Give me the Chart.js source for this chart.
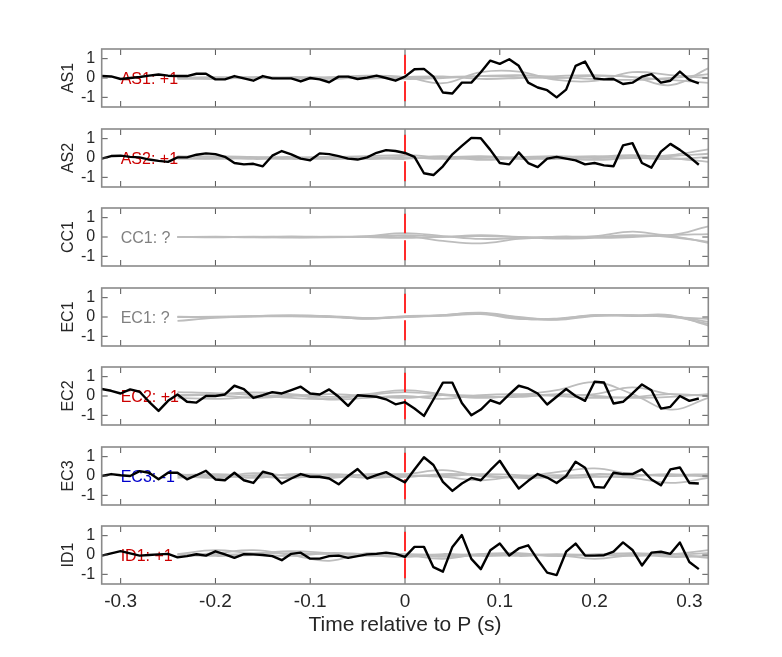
<!DOCTYPE html>
<html>
<head>
<meta charset="utf-8">
<script src="https://cdn.jsdelivr.net/npm/chart.js@4.4.1/dist/chart.umd.min.js"></script>
<style>
  body { margin: 0; background: #fff; }
  #wrap { position: relative; width: 782px; height: 657px; }
  .panel { position: absolute; left: 0; width: 782px; }
</style>
</head>
<body>
<div id="wrap"></div>
<script>
// sample grid of the traces (s)
const t0 = -0.32, dt = 0.01, nSamples = 64;
// sample times of the grey reference traces
const grayTimes = [-0.24,-0.20,-0.16,-0.12,-0.08,-0.04,0.00,0.04,0.08,0.12,0.16,0.20,0.24,0.28,0.32];
const xTicks = [-0.3,-0.2,-0.1,0,0.1,0.2,0.3];
const xTickLabels = ['-0.3','-0.2','-0.1','0','0.1','0.2','0.3'];
const yTicks = [-1,0,1];
const yTickLabels = ['-1','0','1'];
const xTitle = 'Time relative to P (s)';

const panelNames = ['AS1','AS2','CC1','EC1','EC2','EC3','ID1'];
const panelNotes = ['AS1: +1','AS2: +1','CC1: ?','EC1: ?','EC2: +1','EC3: -1','ID1: +1'];
const noteColors = ['#cc0000','#cc0000','#808080','#808080','#cc0000','#0000cc','#cc0000'];

// black traces (null = no trace in that panel)
const as1Black = [0.1,0.08,-0.05,0.0,0.05,0.12,0.18,0.12,0.1,0.1,0.22,0.22,-0.07,-0.07,0.1,-0.02,-0.14,0.1,-0.02,-0.02,-0.02,-0.18,0.0,-0.07,-0.22,0.07,0.07,-0.05,0.02,0.12,0.0,-0.14,
  0.07,0.45,0.47,0.07,-0.75,-0.8,-0.24,-0.24,0.3,0.9,0.73,0.97,0.63,-0.24,-0.49,-0.63,-1.0,-0.6,0.63,0.85,-0.02,-0.07,-0.05,-0.31,-0.24,0.07,0.2,-0.24,-0.14,0.33,-0.1,-0.28];
const as2Black = [-0.03,0.1,0.12,0.06,0.03,-0.08,-0.15,-0.2,0.03,0.03,0.17,0.24,0.2,0.06,-0.26,-0.33,-0.3,-0.43,0.12,0.36,0.19,-0.03,-0.12,0.24,0.2,0.1,-0.03,-0.08,0.03,0.27,0.41,0.36,
  0.26,0.06,-0.79,-0.88,-0.43,0.19,0.63,1.04,1.02,0.42,-0.26,-0.33,0.29,-0.26,-0.47,-0.03,0.06,-0.03,-0.12,-0.33,-0.26,-0.38,-0.43,0.65,0.77,-0.26,-0.5,0.33,0.73,0.42,0.06,-0.35];
const ec2Black = [0.36,0.27,0.13,0.34,0.22,-0.3,-0.77,-0.25,0.08,-0.3,-0.34,0.0,0.0,0.08,0.53,0.36,-0.1,0.04,0.2,0.13,0.3,0.48,0.13,0.08,0.34,-0.04,-0.51,0.04,0.0,-0.04,-0.17,-0.43,
  -0.32,-0.65,-1.03,-0.18,0.69,0.69,-0.36,-1.0,-0.7,-0.22,-0.39,0.08,0.53,0.39,0.13,-0.44,-0.04,0.36,0.0,-0.25,0.74,0.7,-0.39,-0.3,0.13,0.6,0.3,-0.65,-0.56,0.0,-0.25,-0.13];
const ec3Black = [0.0,0.1,0.04,0.0,0.25,0.17,-0.17,0.17,0.17,-0.17,0.04,0.27,-0.18,-0.22,0.17,-0.22,-0.36,0.22,0.1,-0.39,-0.13,0.1,-0.04,-0.04,-0.13,-0.43,0.0,0.36,-0.13,0.04,0.2,-0.08,
  -0.33,0.34,0.97,0.57,-0.3,-0.77,-0.39,-0.1,-0.22,0.3,0.79,0.04,-0.65,-0.25,0.1,-0.08,-0.36,0.0,0.74,0.43,-0.57,-0.6,0.17,0.1,0.1,0.34,-0.18,-0.48,0.34,0.44,-0.36,-0.39];
const id1Black = [-0.03,0.08,0.2,0.08,-0.03,0.0,0.03,0.06,-0.12,-0.06,0.04,-0.03,0.19,0.03,-0.15,0.04,0.03,0.0,-0.06,-0.27,0.06,0.12,-0.19,-0.19,-0.06,-0.03,-0.15,-0.06,0.03,0.06,0.12,0.06,
  -0.1,0.42,0.42,-0.63,-0.86,0.42,1.03,-0.2,-0.73,0.25,0.59,-0.03,0.34,0.5,-0.24,-0.91,-1.04,0.17,0.59,-0.03,-0.03,-0.01,0.17,0.65,0.26,-0.54,0.12,0.17,0.06,0.65,-0.36,-0.73];

// grey reference traces, one list of curves per panel
const as1Gray = [
  [0.02,0.05,0.03,0.0,0.05,0.12,0.05,-0.27,0.3,0.33,-0.1,-0.15,0.3,0.15,0.0],
  [0.0,0.02,0.0,-0.03,0.0,0.05,0.0,0.05,0.1,0.05,0.0,0.1,0.05,-0.37,0.5],
  [0.0,-0.05,0.05,0.0,-0.05,0.05,-0.05,0.0,0.1,0.15,0.05,-0.05,-0.1,0.0,0.2],
  [-0.05,0.0,-0.02,0.05,0.02,-0.03,0.05,0.08,-0.05,0.0,0.1,0.15,0.05,-0.1,-0.25]];
const as2Gray = [
  [0.05,0.1,0.05,0.0,0.05,0.1,0.15,0.05,0.1,0.0,0.05,0.1,0.05,0.15,0.45],
  [0.0,-0.05,0.0,0.05,-0.05,0.0,0.05,-0.05,0.0,0.05,0.1,0.0,0.05,0.1,0.22],
  [-0.05,0.0,0.05,-0.05,0.0,0.05,-0.05,0.1,-0.1,0.0,-0.05,0.05,0.15,0.0,-0.2],
  [0.1,0.05,-0.05,0.0,0.05,-0.05,0.0,0.0,0.05,-0.05,0.0,-0.1,0.0,-0.05,0.05]];
const cc1Gray = [
  [0.0,0.0,0.02,0.0,-0.02,0.05,0.2,0.05,-0.1,-0.05,0.02,0.05,0.28,0.1,0.55],
  [0.0,0.02,0.0,0.03,0.0,0.0,0.05,-0.2,-0.33,-0.1,0.0,0.0,0.05,0.05,-0.3],
  [0.0,0.0,-0.02,0.0,0.02,0.03,0.1,0.02,0.05,0.0,-0.05,0.0,0.1,0.0,-0.25],
  [0.0,-0.02,0.0,-0.03,0.0,0.0,-0.05,0.0,0.1,0.0,-0.08,-0.05,0.0,0.1,0.15]];
const ec1Gray = [
  [-0.2,-0.05,0.05,0.08,0.05,-0.05,0.0,0.1,0.22,0.0,-0.15,0.05,0.08,0.1,-0.45],
  [0.0,0.02,0.05,0.08,0.03,-0.1,0.05,0.08,0.18,-0.05,-0.1,0.1,0.05,0.05,-0.25],
  [0.02,0.0,0.03,0.05,0.0,-0.08,0.0,0.1,0.2,-0.08,-0.12,0.08,0.1,0.0,-0.1],
  [0.0,0.0,0.02,0.04,0.02,-0.06,0.02,0.06,0.15,-0.1,-0.08,0.1,0.08,0.02,-0.35]];
const ec2Gray = [
  [0.2,0.15,0.05,-0.1,-0.15,0.05,0.2,0.05,-0.1,0.05,0.3,0.72,0.1,-0.7,-0.1],
  [0.05,0.1,0.18,0.1,-0.05,0.1,0.3,0.1,-0.05,0.0,0.05,0.1,0.45,0.1,0.05],
  [-0.1,-0.15,-0.05,0.05,-0.18,-0.1,0.0,-0.15,0.05,0.1,0.0,-0.1,-0.05,0.1,0.0],
  [0.0,0.05,-0.1,0.0,0.1,0.0,-0.1,0.05,0.0,-0.05,0.1,0.0,-0.1,-0.05,0.1]];
const ec3Gray = [
  [0.1,-0.05,0.15,0.0,-0.1,0.1,0.1,0.3,0.0,-0.05,0.2,0.39,0.1,0.0,0.05],
  [-0.1,0.05,-0.1,0.1,0.05,-0.1,0.0,-0.05,-0.22,0.0,0.05,0.0,-0.1,-0.36,-0.1],
  [0.05,0.1,0.0,-0.1,0.1,0.0,-0.05,0.1,0.05,-0.1,-0.05,0.1,0.05,0.05,0.1],
  [0.0,-0.1,0.05,0.05,-0.05,0.05,0.05,0.0,0.1,0.05,-0.1,-0.05,0.0,0.1,-0.05]];
const id1Gray = [
  [0.05,0.25,0.1,0.2,0.1,-0.05,0.05,-0.1,0.0,0.05,-0.05,0.0,0.1,0.05,0.25],
  [0.0,0.1,0.25,0.0,-0.3,0.1,0.0,-0.2,0.05,-0.05,0.0,-0.2,0.0,0.05,-0.15],
  [-0.05,0.0,0.05,0.1,0.05,0.0,-0.1,0.05,-0.05,0.0,0.05,0.0,-0.05,0.0,0.1],
  [0.05,-0.05,0.0,-0.05,0.1,0.05,0.05,0.0,0.05,0.1,-0.05,0.05,0.05,-0.1,-0.05]];

const blackTraces = [as1Black, as2Black, null, null, ec2Black, ec3Black, id1Black];
const grayTraces = [as1Gray, as2Gray, cc1Gray, ec1Gray, ec2Gray, ec3Gray, id1Gray];

// layout of the stacked axes (px)
const plotLeft = 101.7, plotRight = 708.3, firstTop = 49, pitch = 79.5, plotH = 58, pad = 10;
const fontFamily = '"Liberation Sans", Arial, Helvetica, sans-serif';
const textColor = '#262626';

const sampleTimes = [];
for (let i = 0; i < nSamples; i++) sampleTimes.push(+(t0 + i * dt).toFixed(2));

const framePlugin = {
  id: 'frame',
  afterDatasetDraw(chart, args, opts) {
    // the note sits above the grey curves but under the black trace
    if (!chart.data.datasets[args.index].isMarker) return;
    const ctx = chart.ctx, x = chart.scales.x, y = chart.scales.y;
    ctx.save();
    ctx.font = '16px ' + fontFamily;
    ctx.fillStyle = opts.color;
    ctx.textAlign = 'left';
    ctx.textBaseline = 'middle';
    ctx.fillText(opts.note, x.getPixelForValue(-0.3), y.getPixelForValue(0) + 1.5);
    ctx.restore();
  },
  afterDatasetsDraw(chart, args, opts) {
    const ctx = chart.ctx, a = chart.chartArea, x = chart.scales.x, y = chart.scales.y;
    ctx.save();
    // inward tick marks on all four sides
    ctx.strokeStyle = '#555';
    ctx.lineWidth = 1;
    ctx.beginPath();
    xTicks.forEach(v => {
      const px = x.getPixelForValue(v);
      ctx.moveTo(px, a.top); ctx.lineTo(px, a.top + 6);
      ctx.moveTo(px, a.bottom); ctx.lineTo(px, a.bottom - 6);
    });
    yTicks.forEach(v => {
      const py = y.getPixelForValue(v);
      ctx.moveTo(a.left, py); ctx.lineTo(a.left + 6, py);
      ctx.moveTo(a.right, py); ctx.lineTo(a.right - 6, py);
    });
    ctx.stroke();
    ctx.strokeStyle = '#8a8a8a';
    ctx.lineWidth = 1.6;
    ctx.strokeRect(a.left, a.top, a.right - a.left, a.bottom - a.top);

    // tick labels and titles
    ctx.fillStyle = textColor;
    ctx.font = '16px ' + fontFamily;
    ctx.textAlign = 'right';
    ctx.textBaseline = 'middle';
    yTicks.forEach((v, i) => ctx.fillText(yTickLabels[i], a.left - 6.5, y.getPixelForValue(v)));
    ctx.save();
    ctx.translate(69, (a.top + a.bottom) / 2);
    ctx.rotate(-Math.PI / 2);
    ctx.textAlign = 'center';
    ctx.fillText(opts.name, 0, 0);
    ctx.restore();
    if (opts.last) {
      ctx.font = '19px ' + fontFamily;
      ctx.textAlign = 'center';
      xTicks.forEach((v, i) => ctx.fillText(xTickLabels[i], x.getPixelForValue(v), a.bottom + 18));
      ctx.font = '21px ' + fontFamily;
      ctx.fillText(xTitle, (a.left + a.right) / 2, a.bottom + 41.5);
    }
    ctx.restore();
  }
};

const wrap = document.getElementById('wrap');

panelNames.forEach((name, p) => {
  const isLast = p === panelNames.length - 1;
  const bottomPad = isLast ? 62 : pad;
  const height = pad + plotH + bottomPad;

  const div = document.createElement('div');
  div.className = 'panel';
  div.style.top = (firstTop + p * pitch - pad) + 'px';
  div.style.height = height + 'px';
  const canvas = document.createElement('canvas');
  div.appendChild(canvas);
  wrap.appendChild(div);

  const datasets = [];
  if (blackTraces[p]) {
    datasets.push({
      data: blackTraces[p].map((v, i) => ({x: sampleTimes[i], y: v})),
      borderColor: '#000', borderWidth: 2.4, order: 0, tension: 0,
      borderJoinStyle: 'round'
    });
  }
  datasets.push({
    isMarker: true,
    data: [{x: 0, y: -1.2}, {x: 0, y: 1.2}],
    borderColor: '#ff2a2a', borderWidth: 2, borderDash: [20, 7], order: 1
  });
  grayTraces[p].forEach(curve => {
    datasets.push({
      data: curve.map((v, i) => ({x: grayTimes[i], y: v})),
      borderColor: '#bdbdbd', borderWidth: 1.8, tension: 0.4, order: 2
    });
  });

  new Chart(canvas, {
    type: 'line',
    data: {datasets},
    plugins: [framePlugin],
    options: {
      responsive: true,
      maintainAspectRatio: false,
      animation: false,
      events: [],
      elements: {point: {radius: 0}},
      layout: {padding: {top: pad, right: 782 - plotRight, bottom: bottomPad, left: plotLeft}},
      plugins: {
        legend: {display: false},
        tooltip: {enabled: false},
        frame: {note: panelNotes[p], color: noteColors[p], name: name, last: isLast}
      },
      scales: {
        x: {type: 'linear', min: -0.32, max: 0.32, display: false},
        y: {type: 'linear', min: -1.5, max: 1.5, display: false}
      }
    }
  });
});
</script>
</body>
</html>
